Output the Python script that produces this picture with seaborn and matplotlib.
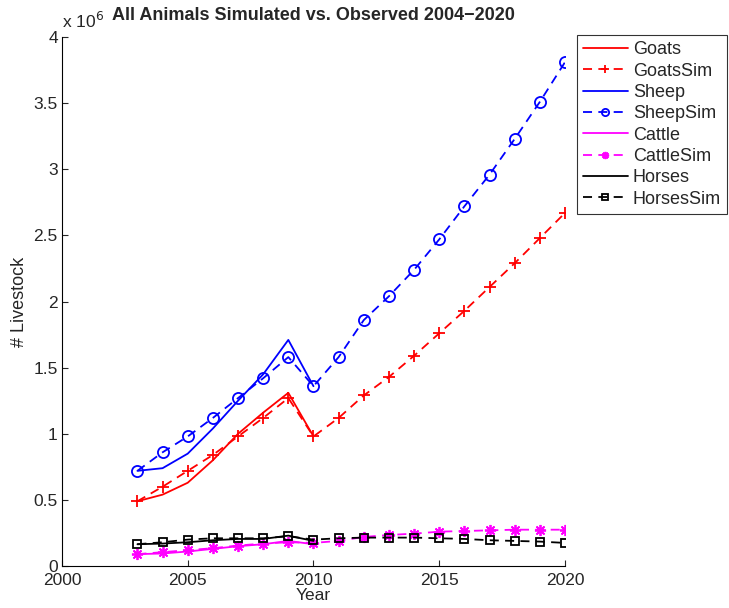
import numpy as np
import pandas as pd
import matplotlib
matplotlib.use('Agg')
import matplotlib.pyplot as plt
import seaborn as sns

# observed years and simulated years
years_obs = [2003, 2004, 2005, 2006, 2007, 2008, 2009, 2010]
years_sim = list(range(2003, 2021))

# values, in millions
goats = [0.49, 0.54, 0.63, 0.80, 1.00, 1.16, 1.31, 0.98]
goats_sim = [0.49, 0.60, 0.72, 0.84, 0.98, 1.12, 1.27, 0.98, 1.12, 1.29,
             1.43, 1.59, 1.76, 1.93, 2.11, 2.29, 2.48, 2.67]
sheep = [0.72, 0.74, 0.85, 1.04, 1.25, 1.45, 1.71, 1.36]
sheep_sim = [0.72, 0.86, 0.98, 1.12, 1.27, 1.42, 1.58, 1.36, 1.58, 1.86,
             2.04, 2.24, 2.47, 2.72, 2.96, 3.23, 3.51, 3.81]
cattle = [0.09, 0.095, 0.11, 0.13, 0.15, 0.165, 0.19, 0.165]
cattle_sim = [0.09, 0.105, 0.12, 0.135, 0.155, 0.17, 0.18, 0.175, 0.19, 0.22,
              0.235, 0.245, 0.26, 0.265, 0.27, 0.275, 0.275, 0.275]
horses = [0.165, 0.17, 0.18, 0.195, 0.205, 0.205, 0.23, 0.19]
horses_sim = [0.165, 0.18, 0.20, 0.21, 0.21, 0.21, 0.225, 0.20, 0.21, 0.215,
              0.215, 0.215, 0.21, 0.205, 0.195, 0.19, 0.185, 0.175]

sns.set_style('white')
plt.rcParams['font.family'] = ['Liberation Sans', 'DejaVu Sans']
plt.rcParams['font.size'] = 12.5

fig = plt.figure(figsize=(7.29, 6.08), dpi=100)
ax = fig.add_axes([0.085, 0.069, 0.690, 0.870])

scale = 1e6
dash = (5, 3.5)

def obs(x, y, color, label):
    sns.lineplot(x=x, y=np.array(y) * scale, color=color, lw=1.3, label=label, ax=ax)

def sim(x, y, color, marker, label, ms=7):
    sns.lineplot(x=x, y=np.array(y) * scale, color=color, lw=1.3, dashes=False,
                 linestyle='--', marker=marker, markersize=ms, markerfacecolor='none',
                 markeredgecolor=color, markeredgewidth=1.3, label=label, ax=ax)

obs(years_obs, goats, 'red', 'Goats')
sim(years_sim, goats_sim, 'red', '+', 'GoatsSim', ms=8)
obs(years_obs, sheep, 'blue', 'Sheep')
sim(years_sim, sheep_sim, 'blue', 'o', 'SheepSim', ms=8)
obs(years_obs, cattle, 'magenta', 'Cattle')
sim(years_sim, cattle_sim, 'magenta', (8, 2, 0), 'CattleSim', ms=8)
obs(years_obs, horses, 'black', 'Horses')
sim(years_sim, horses_sim, 'black', 's', 'HorsesSim', ms=6)

for line in ax.get_lines():
    if line.get_linestyle() == '--':
        line.set_dashes(dash)

ax.set_xlim(2000, 2020)
ax.set_ylim(0, 4e6)
ax.set_xticks([2000, 2005, 2010, 2015, 2020])
ax.set_yticks(np.arange(0, 4.01, 0.5) * scale)
ax.set_yticklabels(['0', '0.5', '1', '1.5', '2', '2.5', '3', '3.5', '4'])
ax.tick_params(direction='in', length=4, labelsize=12.5, bottom=True, left=True, pad=3)
ax.tick_params(axis='x', pad=5)
for s in ['top', 'right']:
    ax.spines[s].set_visible(False)
for s in ['left', 'bottom']:
    ax.spines[s].set_color('black')
    ax.spines[s].set_linewidth(0.8)

ax.set_xlabel('Year', fontsize=12.5, labelpad=0)
ax.set_ylabel('# Livestock', fontsize=13, labelpad=4)
ax.set_title('All Animals Simulated vs. Observed 2004\u22122020', fontsize=13,
             fontweight='bold', pad=12)
ax.text(0.0, 1.012, r'x 10$^6$', transform=ax.transAxes, fontsize=12.5, ha='left', va='bottom')

leg = ax.legend(loc='upper left', bbox_to_anchor=(577 / 729, 1 - 35 / 608),
                bbox_transform=fig.transFigure, frameon=True,
                fancybox=False, edgecolor='black', handlelength=2.45, handletextpad=0.3,
                labelspacing=0.24, borderpad=0.35, fontsize=13, numpoints=1,
                markerscale=0.65, borderaxespad=0)
leg.get_frame().set_linewidth(0.8)

fig.savefig('out.png', dpi=100)
